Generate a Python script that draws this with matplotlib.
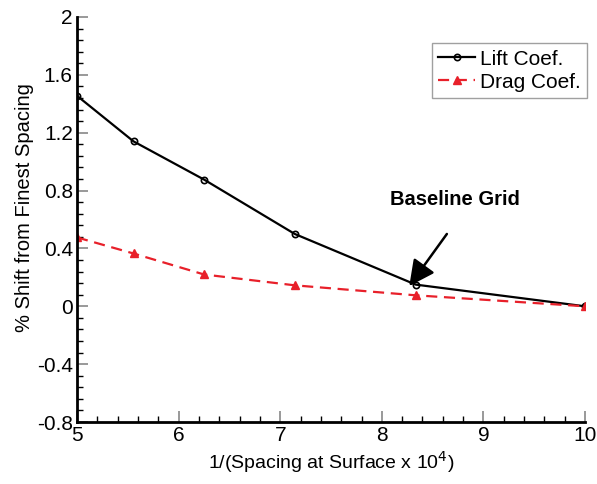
import matplotlib
matplotlib.use("Agg")
import matplotlib.pyplot as plt
from matplotlib.ticker import MultipleLocator, FuncFormatter

plt.rcParams['font.family'] = ['Liberation Sans', 'DejaVu Sans']

x = [5.0, 5.556, 6.25, 7.143, 8.333, 10.0]
lift = [1.455, 1.14, 0.876, 0.50, 0.15, 0.0]
drag = [0.476, 0.365, 0.22, 0.145, 0.076, 0.0]

fig = plt.figure(figsize=(5.97, 4.84), dpi=100)
ax = fig.add_axes([0.129, 0.128, 0.851, 0.837])

ax.plot(x, lift, color='black', lw=1.6, marker='o', ms=4.5, mfc='none', mec='black', mew=1.2, label='Lift Coef.')
ax.plot(x, drag, color='#e8202a', lw=1.6, ls=(0, (5, 3)), marker='^', ms=6, mfc='#e8202a', mec='#e8202a', label='Drag Coef.')

ax.set_xlim(5, 10)
ax.set_ylim(-0.8, 2)
ax.xaxis.set_major_locator(MultipleLocator(1))
ax.xaxis.set_minor_locator(MultipleLocator(0.2))
ax.yaxis.set_major_locator(MultipleLocator(0.4))
ax.yaxis.set_minor_locator(MultipleLocator(0.08))

def yfmt(v, pos):
    if abs(v) < 1e-9:
        return '0'
    if abs(v - round(v)) < 1e-9:
        return '%d' % round(v)
    return '%g' % round(v, 2)
ax.yaxis.set_major_formatter(FuncFormatter(yfmt))

for s in ['top', 'right']:
    ax.spines[s].set_visible(False)
for s in ['left', 'bottom']:
    ax.spines[s].set_linewidth(2)

ax.tick_params(which='major', direction='in', length=8, width=1.2, color='#888888', labelsize=15, pad=3)
ax.tick_params(which='minor', direction='in', length=4, width=1, color='black')

ax.set_xlabel('1/(Spacing at Surface x 10$^4$)', fontsize=14, labelpad=3)
ax.set_ylabel('% Shift from Finest Spacing', fontsize=14.5)
ax.yaxis.set_label_coords(-0.085, 0.53)

leg = ax.legend(loc='upper right', bbox_to_anchor=(1.003, 0.935), fontsize=15, frameon=True, fancybox=False,
                handlelength=1.8, handletextpad=0.2, borderpad=0.3, labelspacing=0.2, borderaxespad=0)
leg.get_frame().set_edgecolor('#888888')
leg.get_frame().set_linewidth(1)

ax.text(8.72, 0.74, 'Baseline Grid', fontsize=14.5, fontweight='bold', ha='center', va='center')
ax.annotate('', xy=(8.27, 0.14), xytext=(8.64, 0.50),
            arrowprops=dict(arrowstyle='-|>,head_length=0.6,head_width=0.3', color='black', lw=1.8,
                            mutation_scale=26, shrinkA=0, shrinkB=0))

fig.savefig('out.png', dpi=100)
